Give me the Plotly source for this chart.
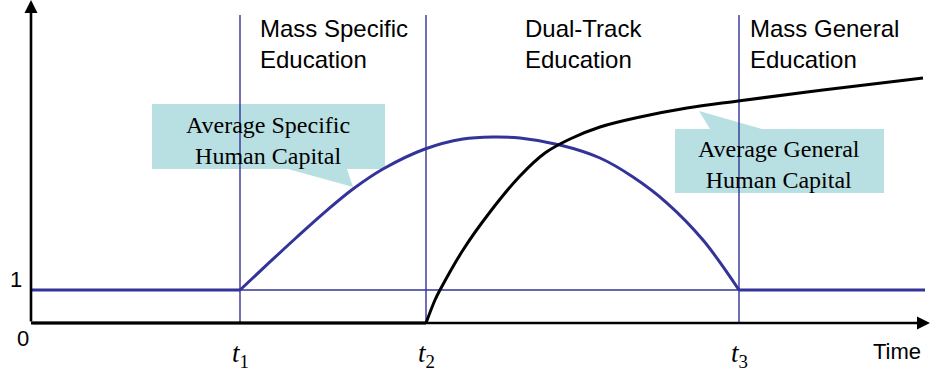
import plotly.graph_objects as go

# ---------------- data ----------------
t_values = [2.09, 3.95, 7.08]
t_labels = ["<i>t</i><sub>1</sub>", "<i>t</i><sub>2</sub>", "<i>t</i><sub>3</sub>"]
phase_labels = ["Mass Specific<br>Education", "Dual-Track<br>Education", "Mass General<br>Education"]

base_level = 1.0
x_end = 8.94

specific_x = [2.09, 2.40, 2.66, 2.95, 3.22, 3.52, 3.94, 4.32, 4.62, 4.89, 5.29, 5.69, 6.02, 6.36, 6.72, 7.08]
specific_y = [1.0, 1.88, 2.606, 3.39, 4.06, 4.667, 5.273, 5.576, 5.636, 5.606, 5.394, 5.0, 4.424, 3.636, 2.515, 1.0]

general_x = [3.95, 4.04, 4.09, 4.32, 4.59, 4.89, 5.14, 5.39, 5.69, 6.09, 6.56, 7.07, 7.92, 8.92]
general_y = [0.0, 0.697, 1.0, 2.212, 3.364, 4.455, 5.152, 5.576, 5.939, 6.242, 6.515, 6.727, 7.061, 7.424]

# ---------------- geometry helpers (pixel -> data) ----------------
W, H = 930, 375
X0PX, Y0PX, XS, YS = 31.0, 323.0, 100.0, 33.0


def px_x(p):
    return (p - X0PX) / XS


def px_y(p):
    return (Y0PX - p) / YS


BLUE = "#333399"
TEAL = "#B8DFE2"
SANS = "Liberation Sans, Arial, sans-serif"
SERIF = "Liberation Serif, Times New Roman, serif"

fig = go.Figure()

# thin reference line at level 1
fig.add_trace(go.Scatter(x=[0, x_end], y=[base_level, base_level], mode="lines",
                         line=dict(color=BLUE, width=1.6), hoverinfo="skip"))

# vertical phase lines
for t in t_values:
    fig.add_trace(go.Scatter(x=[t, t], y=[0, px_y(15)], mode="lines",
                             line=dict(color=BLUE, width=1.4), hoverinfo="skip"))

# specific human capital
fig.add_trace(go.Scatter(x=[0, t_values[0]], y=[base_level, base_level], mode="lines",
                         line=dict(color=BLUE, width=3), hoverinfo="skip"))
fig.add_trace(go.Scatter(x=specific_x, y=specific_y, mode="lines",
                         line=dict(color=BLUE, width=3, shape="spline", smoothing=1.0), hoverinfo="skip"))
fig.add_trace(go.Scatter(x=[t_values[2], x_end], y=[base_level, base_level], mode="lines",
                         line=dict(color=BLUE, width=3), hoverinfo="skip"))

# general human capital
fig.add_trace(go.Scatter(x=[0, t_values[1]], y=[0, 0], mode="lines",
                         line=dict(color="black", width=3), hoverinfo="skip"))
fig.add_trace(go.Scatter(x=general_x, y=general_y, mode="lines",
                         line=dict(color="black", width=3, shape="spline", smoothing=1.0), hoverinfo="skip"))


# callout boxes
def path(pts):
    return "M " + " L ".join(f"{px_x(a):.4f},{px_y(b):.4f}" for a, b in pts) + " Z"


shapes = [
    dict(type="path", xref="x", yref="y", layer="below", fillcolor=TEAL, line=dict(width=0),
         path=path([(152, 104), (385, 104), (385, 169), (347, 169), (353, 187), (288, 169), (152, 169)])),
    dict(type="path", xref="x", yref="y", layer="below", fillcolor=TEAL, line=dict(width=0),
         path=path([(675, 129), (710, 129), (699, 111), (762, 129), (884, 129), (884, 193), (675, 193)])),
]

annotations = []
# axes with arrows
annotations.append(dict(x=0, y=px_y(0), ax=0, ay=0, xref="x", yref="y", axref="x", ayref="y",
                        text="", showarrow=True, arrowhead=2, arrowsize=1, arrowwidth=2.6,
                        arrowcolor="black", standoff=0))
annotations.append(dict(x=px_x(930), y=0, ax=0, ay=0, xref="x", yref="y", axref="x", ayref="y",
                        text="", showarrow=True, arrowhead=2, arrowsize=1, arrowwidth=2.6,
                        arrowcolor="black", standoff=0))

# phase labels
for xpx, lab in zip([258, 523, 748], phase_labels):
    annotations.append(dict(x=px_x(xpx), y=px_y(44), xref="x", yref="y", text=lab, showarrow=False,
                            xanchor="left", yanchor="middle", align="left",
                            font=dict(family=SANS, size=24, color="black")))

# callout texts
annotations.append(dict(x=px_x(268), y=px_y(140), xref="x", yref="y",
                        text="Average Specific<br>Human Capital", showarrow=False,
                        xanchor="center", yanchor="middle", align="center",
                        font=dict(family=SERIF, size=24, color="black")))
annotations.append(dict(x=px_x(779), y=px_y(164), xref="x", yref="y",
                        text="Average General<br>Human Capital", showarrow=False,
                        xanchor="center", yanchor="middle", align="center",
                        font=dict(family=SERIF, size=24, color="black")))

# t labels
for t, lab in zip(t_values, t_labels):
    annotations.append(dict(x=t, y=px_y(355), xref="x", yref="y", text=lab, showarrow=False,
                            xanchor="center", yanchor="middle",
                            font=dict(family=SERIF, size=27, color="black")))

# tick labels and axis title
annotations.append(dict(x=px_x(16), y=base_level + (290 - 279.5) / YS, xref="x", yref="y", text="1",
                        showarrow=False, xanchor="center", yanchor="middle",
                        font=dict(family=SANS, size=22, color="black")))
annotations.append(dict(x=px_x(23), y=px_y(338), xref="x", yref="y", text="0",
                        showarrow=False, xanchor="center", yanchor="middle",
                        font=dict(family=SANS, size=22, color="black")))
annotations.append(dict(x=px_x(897), y=px_y(351), xref="x", yref="y", text="Time",
                        showarrow=False, xanchor="center", yanchor="middle",
                        font=dict(family=SANS, size=22, color="black")))

fig.update_layout(
    width=W, height=H,
    margin=dict(l=0, r=0, t=0, b=0),
    paper_bgcolor="white", plot_bgcolor="white",
    showlegend=False,
    hovermode=False,
    xaxis=dict(range=[px_x(0), px_x(W)], visible=False, fixedrange=True),
    yaxis=dict(range=[px_y(H), px_y(0)], visible=False, fixedrange=True),
    shapes=shapes,
    annotations=annotations,
)

fig.write_html("out.html",
               config={"displayModeBar": False, "staticPlot": True},
               post_script="document.body.style.margin='0';document.body.style.padding='0';"
                           "document.body.style.overflow='hidden';")
